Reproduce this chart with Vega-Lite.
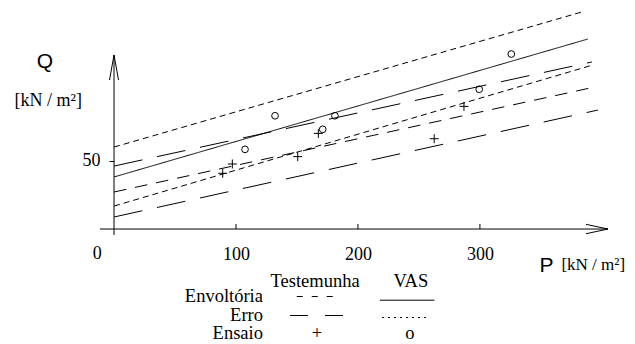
{
  "$schema": "https://vega.github.io/schema/vega-lite/v6.json",
  "width": 508,
  "height": 230.85,
  "autosize": {"type": "none"},
  "padding": {"left": 100, "top": 5, "right": 27, "bottom": 108.15},
  "background": "white",
  "config": {
    "view": {"stroke": null}
  },
  "datasets": {
    "linhas": [
      {"linha": "V_env", "tipo": "V_env", "P": 0, "Q": 38.1},
      {"linha": "V_env", "tipo": "V_env", "P": 388.5, "Q": 139.1},
      {"linha": "V_err_sup", "tipo": "V_err", "P": 0, "Q": 60.0},
      {"linha": "V_err_sup", "tipo": "V_err", "P": 383.6, "Q": 158.9},
      {"linha": "V_err_inf", "tipo": "V_err", "P": 0, "Q": 16.8},
      {"linha": "V_err_inf", "tipo": "V_err", "P": 392.6, "Q": 120.1},
      {"linha": "T_env", "tipo": "T_env", "P": 0, "Q": 27.1},
      {"linha": "T_env", "tipo": "T_env", "P": 394.3, "Q": 104.0},
      {"linha": "T_err_sup", "tipo": "T_err", "P": 0, "Q": 46.1},
      {"linha": "T_err_sup", "tipo": "T_err", "P": 391.8, "Q": 122.3},
      {"linha": "T_err_inf", "tipo": "T_err", "P": 0, "Q": 8.8},
      {"linha": "T_err_inf", "tipo": "T_err", "P": 396.7, "Q": 87.1}
    ],
    "testemunha": [
      {"P": 89.1, "Q": 40.8},
      {"P": 97.0, "Q": 47.6},
      {"P": 150.6, "Q": 53.0},
      {"P": 167.5, "Q": 70.0},
      {"P": 262.5, "Q": 66.1},
      {"P": 286.9, "Q": 89.8}
    ],
    "vas": [
      {"P": 107.4, "Q": 58.3},
      {"P": 132.0, "Q": 82.9},
      {"P": 171.1, "Q": 73.0},
      {"P": 181.1, "Q": 82.9},
      {"P": 299.4, "Q": 102.3},
      {"P": 325.7, "Q": 128.1}
    ],
    "marcas": [{"P": 100}, {"P": 200}, {"P": 300}],
    "um": [{}]
  },
  "layer": [
    {
      "data": {"name": "linhas"},
      "mark": {"type": "line", "strokeWidth": 1, "color": "black"},
      "encoding": {
        "x": {"field": "P", "type": "quantitative",
          "scale": {"domain": [-11.5, 405], "nice": false, "zero": false},
          "axis": {"values": [100, 200, 300], "domain": false, "ticks": false, "grid": false,
            "labelFont": "Liberation Serif, Times New Roman, serif", "labelFontSize": 18, "labelPadding": 16,
            "labelColor": "black", "offset": -6.85, "title": null}},
        "y": {"field": "Q", "type": "quantitative",
          "scale": {"domain": [-5, 164], "nice": false, "zero": false},
          "axis": {"values": [50], "domain": false, "grid": false, "tickSize": 5, "tickColor": "black",
            "labelFont": "Liberation Serif, Times New Roman, serif", "labelFontSize": 18, "labelPadding": 9,
            "labelColor": "black", "offset": -14, "title": null}},
        "detail": {"field": "linha"},
        "strokeDash": {"field": "tipo", "type": "nominal",
          "scale": {"domain": ["T_env", "T_err", "V_env", "V_err"],
                    "range": [[12.5, 9], [29, 15], [1, 0], [6, 4]]},
          "legend": null}
      }
    },
    {
      "data": {"name": "um"},
      "mark": {"type": "rule", "color": "black", "strokeWidth": 1},
      "encoding": {"x": {"datum": -11.5}, "x2": {"datum": 405}, "y": {"datum": 0}}
    },
    {
      "data": {"name": "um"},
      "mark": {"type": "rule", "color": "black", "strokeWidth": 1},
      "encoding": {"x": {"datum": 0}, "y": {"datum": -4.4}, "y2": {"datum": 127.4}}
    },
    {
      "data": {"name": "marcas"},
      "mark": {"type": "rule", "color": "black", "strokeWidth": 1},
      "encoding": {"x": {"field": "P", "type": "quantitative"}, "y": {"datum": 0}, "y2": {"datum": 3.7}}
    },
    {
      "data": {"name": "um"},
      "mark": {"type": "point", "shape": "M-2.2,-0.47L0,0L-2.2,0.47", "size": 400, "filled": false,
        "stroke": "black", "strokeWidth": 1, "opacity": 1},
      "encoding": {"x": {"datum": 405}, "y": {"datum": 0}}
    },
    {
      "data": {"name": "um"},
      "mark": {"type": "point", "shape": "M-0.45,2.5L0,0L0.45,2.5", "size": 400, "filled": false,
        "stroke": "black", "strokeWidth": 1, "opacity": 1},
      "encoding": {"x": {"datum": 0}, "y": {"datum": 127.4}}
    },
    {
      "data": {"name": "testemunha"},
      "mark": {"type": "point", "shape": "M-1,0L1,0M0,-1L0,1", "size": 81, "filled": false,
        "stroke": "black", "strokeWidth": 1, "opacity": 1},
      "encoding": {"x": {"field": "P", "type": "quantitative"}, "y": {"field": "Q", "type": "quantitative"}}
    },
    {
      "data": {"name": "vas"},
      "mark": {"type": "point", "shape": "circle", "size": 45, "filled": false,
        "stroke": "black", "strokeWidth": 1, "opacity": 1},
      "encoding": {"x": {"field": "P", "type": "quantitative"}, "y": {"field": "Q", "type": "quantitative"}}
    },
    {
      "data": {"name": "um"},
      "mark": {"type": "text", "align": "center", "baseline": "alphabetic", "font": "Liberation Serif, Times New Roman, serif", "fontSize": 18, "color": "black"},
      "encoding": {"x": {"datum": -13.8}, "y": {"datum": -22.2}, "text": {"value": "0"}}
    },
    {
      "data": {"name": "um"},
      "mark": {"type": "text", "align": "center", "baseline": "alphabetic", "font": "Liberation Sans, Arial, sans-serif", "fontSize": 21, "color": "black"},
      "encoding": {"x": {"datum": -56.6}, "y": {"datum": 117.9}, "text": {"value": "Q"}}
    },
    {
      "data": {"name": "um"},
      "mark": {"type": "text", "align": "center", "baseline": "alphabetic", "font": "Liberation Serif, Times New Roman, serif", "fontSize": 18, "color": "black"},
      "encoding": {"x": {"datum": -53.9}, "y": {"datum": 90.0}, "text": {"value": "[kN / m²]"}}
    },
    {
      "data": {"name": "um"},
      "mark": {"type": "text", "align": "center", "baseline": "alphabetic", "font": "Liberation Sans, Arial, sans-serif", "fontSize": 21, "color": "black"},
      "encoding": {"x": {"datum": 354.5}, "y": {"datum": -31.3}, "text": {"value": "P"}}
    },
    {
      "data": {"name": "um"},
      "mark": {"type": "text", "align": "center", "baseline": "alphabetic", "font": "Liberation Serif, Times New Roman, serif", "fontSize": 17, "color": "black"},
      "encoding": {"x": {"datum": 392.9}, "y": {"datum": -30.0}, "text": {"value": "[kN / m²]"}}
    },
    {
      "data": {"name": "um"},
      "mark": {"type": "text", "align": "center", "baseline": "alphabetic", "font": "Liberation Serif, Times New Roman, serif", "fontSize": 18.5, "color": "black"},
      "encoding": {"x": {"datum": 164.8}, "y": {"datum": -42.1}, "text": {"value": "Testemunha"}}
    },
    {
      "data": {"name": "um"},
      "mark": {"type": "text", "align": "center", "baseline": "alphabetic", "font": "Liberation Serif, Times New Roman, serif", "fontSize": 18.5, "color": "black"},
      "encoding": {"x": {"datum": 243.4}, "y": {"datum": -42.1}, "text": {"value": "VAS"}}
    },
    {
      "data": {"name": "um"},
      "mark": {"type": "text", "align": "right", "baseline": "alphabetic", "font": "Liberation Serif, Times New Roman, serif", "fontSize": 18.5, "color": "black"},
      "encoding": {"x": {"datum": 122.1}, "y": {"datum": -53.4}, "text": {"value": "Envoltória"}}
    },
    {
      "data": {"name": "um"},
      "mark": {"type": "text", "align": "right", "baseline": "alphabetic", "font": "Liberation Serif, Times New Roman, serif", "fontSize": 18.5, "color": "black"},
      "encoding": {"x": {"datum": 122.1}, "y": {"datum": -67.2}, "text": {"value": "Erro"}}
    },
    {
      "data": {"name": "um"},
      "mark": {"type": "text", "align": "right", "baseline": "alphabetic", "font": "Liberation Serif, Times New Roman, serif", "fontSize": 18.5, "color": "black"},
      "encoding": {"x": {"datum": 122.1}, "y": {"datum": -80.8}, "text": {"value": "Ensaio"}}
    },
    {
      "data": {"name": "um"},
      "mark": {"type": "text", "align": "center", "baseline": "alphabetic", "font": "Liberation Serif, Times New Roman, serif", "fontSize": 18.5, "color": "black"},
      "encoding": {"x": {"datum": 166.4}, "y": {"datum": -80.8}, "text": {"value": "+"}}
    },
    {
      "data": {"name": "um"},
      "mark": {"type": "text", "align": "center", "baseline": "alphabetic", "font": "Liberation Serif, Times New Roman, serif", "fontSize": 18.5, "color": "black"},
      "encoding": {"x": {"datum": 242.6}, "y": {"datum": -80.8}, "text": {"value": "o"}}
    },
    {
      "data": {"name": "um"},
      "mark": {"type": "rule", "color": "black", "strokeWidth": 1, "strokeDash": [6, 9]},
      "encoding": {"x": {"datum": 149.8}, "x2": {"datum": 179.8}, "y": {"datum": -49.4}}
    },
    {
      "data": {"name": "um"},
      "mark": {"type": "rule", "color": "black", "strokeWidth": 1},
      "encoding": {"x": {"datum": 218.0}, "x2": {"datum": 262.6}, "y": {"datum": -52.1}}
    },
    {
      "data": {"name": "um"},
      "mark": {"type": "rule", "color": "black", "strokeWidth": 1, "strokeDash": [18, 17]},
      "encoding": {"x": {"datum": 144.3}, "x2": {"datum": 187.7}, "y": {"datum": -63.3}}
    },
    {
      "data": {"name": "um"},
      "mark": {"type": "rule", "color": "black", "strokeWidth": 1, "strokeDash": [2, 4]},
      "encoding": {"x": {"datum": 219.7}, "x2": {"datum": 256.6}, "y": {"datum": -64.8}}
    }
  ]
}
